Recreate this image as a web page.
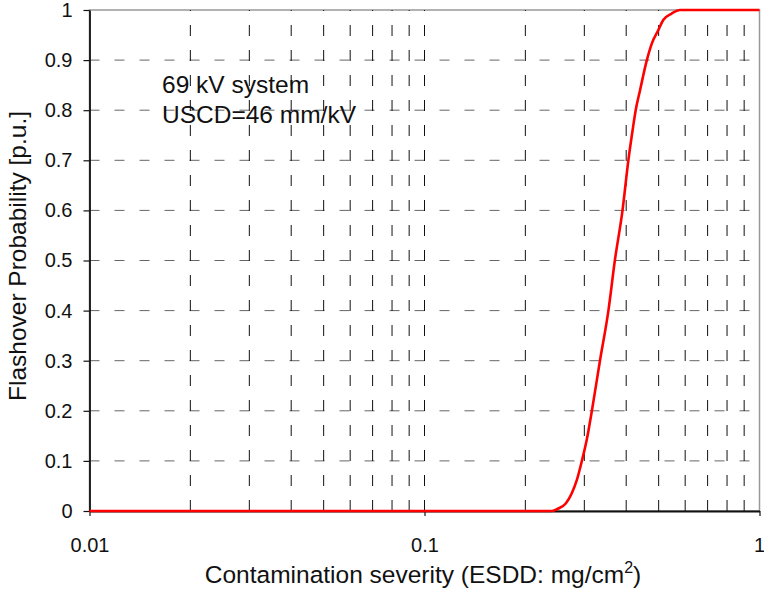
<!DOCTYPE html>
<html>
<head>
<meta charset="utf-8">
<script src="https://cdn.jsdelivr.net/npm/d3@7"></script>
<style>
  body { margin: 0; background: #fff; }
  svg { display: block; font-family: "Liberation Sans", Arial, sans-serif; }
  .axis text { fill: #111; }
</style>
</head>
<body>
<script>
// Flashover probability vs. ESDD
const esdd = [0.01, 0.240, 0.251, 0.264, 0.275, 0.285, 0.295, 0.305, 0.316, 0.334,
  0.354, 0.370, 0.390, 0.406, 0.418, 0.427, 0.440, 0.461, 0.477, 0.499,
  0.516, 0.547, 0.579, 1];
const probability = [0, 0, 0.005, 0.015, 0.035, 0.062, 0.1, 0.142, 0.2, 0.3,
  0.4, 0.5, 0.6, 0.7, 0.76, 0.8, 0.84, 0.9, 0.933, 0.96,
  0.98, 0.993, 1, 1];

const xMajorTicks = [0.01, 0.1, 1];
const xGridValues = [0.02, 0.03, 0.04, 0.05, 0.06, 0.07, 0.08, 0.09,
  0.1, 0.2, 0.3, 0.4, 0.5, 0.6, 0.7, 0.8, 0.9];
const yTicks = [0, 0.1, 0.2, 0.3, 0.4, 0.5, 0.6, 0.7, 0.8, 0.9, 1];
const yTickLabels = ['0', '0.1', '0.2', '0.3', '0.4', '0.5', '0.6', '0.7', '0.8', '0.9', '1'];
const yGridValues = [0.1, 0.2, 0.3, 0.4, 0.5, 0.6, 0.7, 0.8, 0.9];

const annotation = ['69 kV system', 'USCD=46 mm/kV'];

const w = 764;
const h = 590;
const margin = { top: 10, right: 4.5, bottom: 79, left: 89.5 };

const x = d3
  .scaleLog()
  .domain([0.01, 1])
  .range([margin.left, w - margin.right]);

const y = d3
  .scaleLinear()
  .domain([0, 1])
  .range([h - margin.bottom, margin.top]);

const svg = d3
  .select('body')
  .append('svg')
  .attr('width', w)
  .attr('height', h);

// Gray frame on top and right
svg
  .append('rect')
  .attr('x', x(0.01))
  .attr('y', y(1))
  .attr('width', x(1) - x(0.01))
  .attr('height', y(0) - y(1))
  .attr('fill', 'none')
  .attr('stroke', '#999')
  .attr('stroke-width', 1.5);

// Horizontal grid
svg
  .append('g')
  .selectAll('line')
  .data(yGridValues)
  .enter()
  .append('line')
  .attr('x1', x(0.01))
  .attr('x2', x(1))
  .attr('y1', d => y(d))
  .attr('y2', d => y(d))
  .attr('stroke', '#666')
  .attr('stroke-dasharray', '10,15');

// Vertical grid, dashes running up from the x axis
svg
  .append('g')
  .selectAll('line')
  .data(xGridValues)
  .enter()
  .append('line')
  .attr('x1', d => x(d))
  .attr('x2', d => x(d))
  .attr('y1', y(0))
  .attr('y2', y(1))
  .attr('stroke', '#111')
  .attr('stroke-dasharray', '11,14');

// Axes
const yAxis = svg
  .append('g')
  .attr('class', 'axis')
  .attr('transform', `translate(${x(0.01)},0)`)
  .call(
    d3
      .axisLeft(y)
      .tickValues(yTicks)
      .tickFormat((d, i) => yTickLabels[i])
      .tickSize(6)
      .tickSizeOuter(0)
      .tickPadding(11)
  );

const xAxis = svg
  .append('g')
  .attr('class', 'axis')
  .attr('transform', `translate(0,${y(0)})`)
  .call(
    d3
      .axisBottom(x)
      .tickValues(xMajorTicks)
      .tickFormat(d => String(d))
      .tickSize(5)
      .tickSizeOuter(0)
      .tickPadding(22)
  );

[xAxis, yAxis].forEach(g => {
  g.selectAll('text').attr('font-size', 20).attr('font-family', null);
  g.select('.domain').attr('stroke', '#111').attr('stroke-width', 1.8);
  g.selectAll('.tick line').attr('stroke', '#111').attr('stroke-width', 1.2);
});

// keep the "1" label inside the page
xAxis
  .selectAll('.tick text')
  .filter(d => d === 1)
  .attr('text-anchor', 'end')
  .attr('dx', 5);

// Probability curve
const curve = d3
  .line()
  .x(d => x(d[0]))
  .y(d => y(d[1]))
  .curve(d3.curveMonotoneX);

svg
  .append('path')
  .datum(d3.zip(esdd, probability))
  .attr('d', curve)
  .attr('fill', 'none')
  .attr('stroke', '#ff0000')
  .attr('stroke-width', 2.6)
  .attr('stroke-linejoin', 'round');

// Annotation
svg
  .append('g')
  .selectAll('text')
  .data(annotation)
  .enter()
  .append('text')
  .attr('x', 162)
  .attr('y', (d, i) => 93 + i * 30)
  .attr('font-size', 24.5)
  .attr('fill', '#111')
  .text(d => d);

// Axis titles
svg
  .append('text')
  .attr('transform', 'translate(26,256) rotate(-90)')
  .attr('text-anchor', 'middle')
  .attr('font-size', 24.5)
  .attr('fill', '#111')
  .text('Flashover Probability [p.u.]');

const xTitle = svg
  .append('text')
  .attr('x', 423)
  .attr('y', 583)
  .attr('text-anchor', 'middle')
  .attr('font-size', 24.5)
  .attr('fill', '#111');
xTitle.append('tspan').text('Contamination severity (ESDD: mg/cm');
xTitle.append('tspan').attr('font-size', 16).attr('dy', -10).text('2');
xTitle.append('tspan').attr('dy', 10).text(')');
</script>
</body>
</html>
